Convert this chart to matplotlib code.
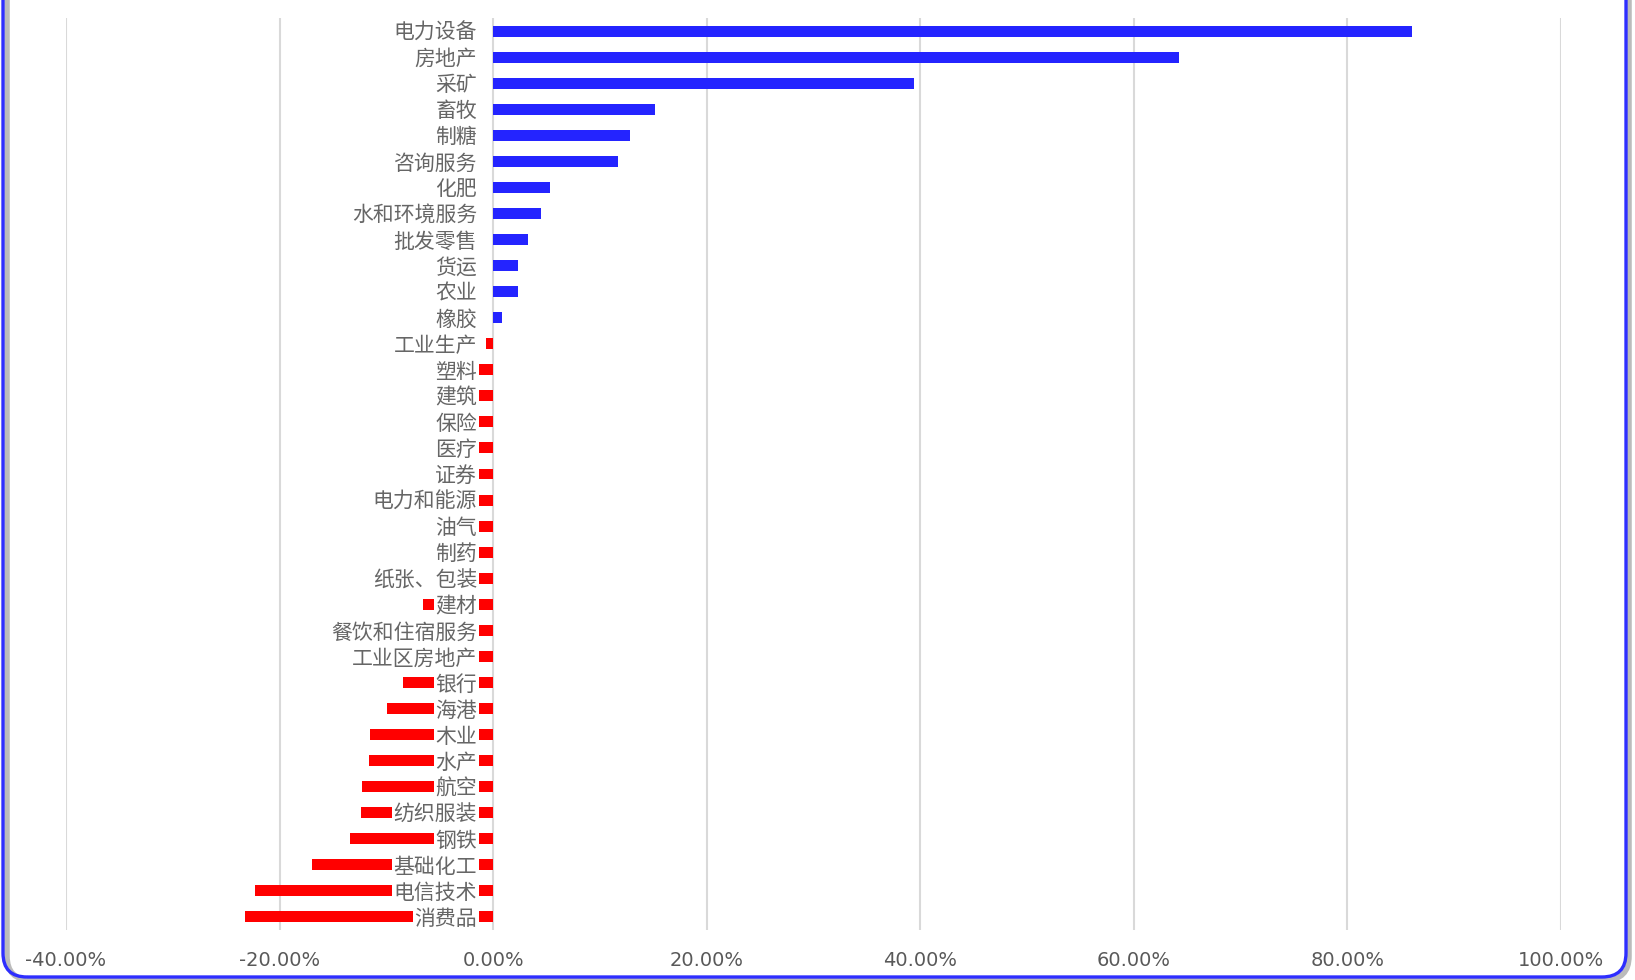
import matplotlib
matplotlib.use("Agg")
import matplotlib.pyplot as plt
from matplotlib.patches import FancyBboxPatch
from matplotlib.ticker import FuncFormatter

plt.rcParams['font.family'] = ['Noto Sans CJK SC', 'DejaVu Sans']

# industries, top to bottom, and their change in percent
categories = ["电力设备", "房地产", "采矿", "畜牧", "制糖", "咨询服务", "化肥", "水和环境服务",
              "批发零售", "货运", "农业", "橡胶", "工业生产", "塑料", "建筑", "保险", "医疗",
              "证券", "电力和能源", "油气", "制药", "纸张、包装", "建材", "餐饮和住宿服务",
              "工业区房地产", "银行", "海港", "木业", "水产", "航空", "纺织服装", "钢铁",
              "基础化工", "电信技术", "消费品"]
values = [86.0, 64.2, 39.4, 15.2, 12.8, 11.7, 5.3, 4.5,
          3.3, 2.3, 2.3, 0.85, -0.65, -1.3, -1.3, -1.5, -1.5,
          -1.5, -1.5, -1.5, -1.5, -1.6, -6.55, -1.5,
          -1.5, -8.4, -9.9, -11.5, -11.6, -12.3, -12.4, -13.4,
          -17.0, -22.3, -23.2]
x_ticks = [-40, -20, 0, 20, 40, 60, 80, 100]

fig = plt.figure(figsize=(16.35, 9.8), dpi=100)
ax = fig.add_axes([66 / 1635, 50 / 980, 1495 / 1635, 912 / 980])

pos = list(range(len(categories)))
colors = ["#2424FF" if v >= 0 else "#FF0000" for v in values]
ax.barh(pos, values, height=0.42, color=colors, zorder=2)

# category labels sit right of zero on a white box, hiding part of the bars
for i, name in enumerate(categories):
    ax.annotate(name, xy=(0, i), xytext=(-16, -2), textcoords="offset pixels",
                ha="right", va="center", fontsize=15, color="#666666",
                bbox=dict(fc="white", ec="none", pad=1), zorder=4)

ax.set_xlim(-40, 100)
ax.set_ylim(len(categories) - 0.5, -0.5)
ax.set_yticks([])
ax.set_xticks(x_ticks)
ax.xaxis.set_major_formatter(FuncFormatter(lambda v, p: f"{v:.2f}%"))
ax.tick_params(axis="x", length=0, pad=15, labelsize=14, labelcolor="#595959")
for lab in ax.get_xticklabels():
    lab.set_fontfamily("DejaVu Sans")
ax.grid(axis="x", color="#D9D9D9", linewidth=1.5, zorder=0)
for s in ax.spines.values():
    s.set_visible(False)

# rounded blue frame with a light shadow on the right
shadow = FancyBboxPatch((7, 0), 1622, 1100, boxstyle="round,pad=0,rounding_size=24",
                        transform=None, fc="none", ec="#BBBBBB", lw=4, zorder=0)
frame = FancyBboxPatch((3, 3), 1623, 1100, boxstyle="round,pad=0,rounding_size=24",
                       transform=None, fc="none", ec="#2E2EFF", lw=2.4, zorder=1)
fig.patches.extend([shadow, frame])

fig.savefig("out.png", dpi=100)
